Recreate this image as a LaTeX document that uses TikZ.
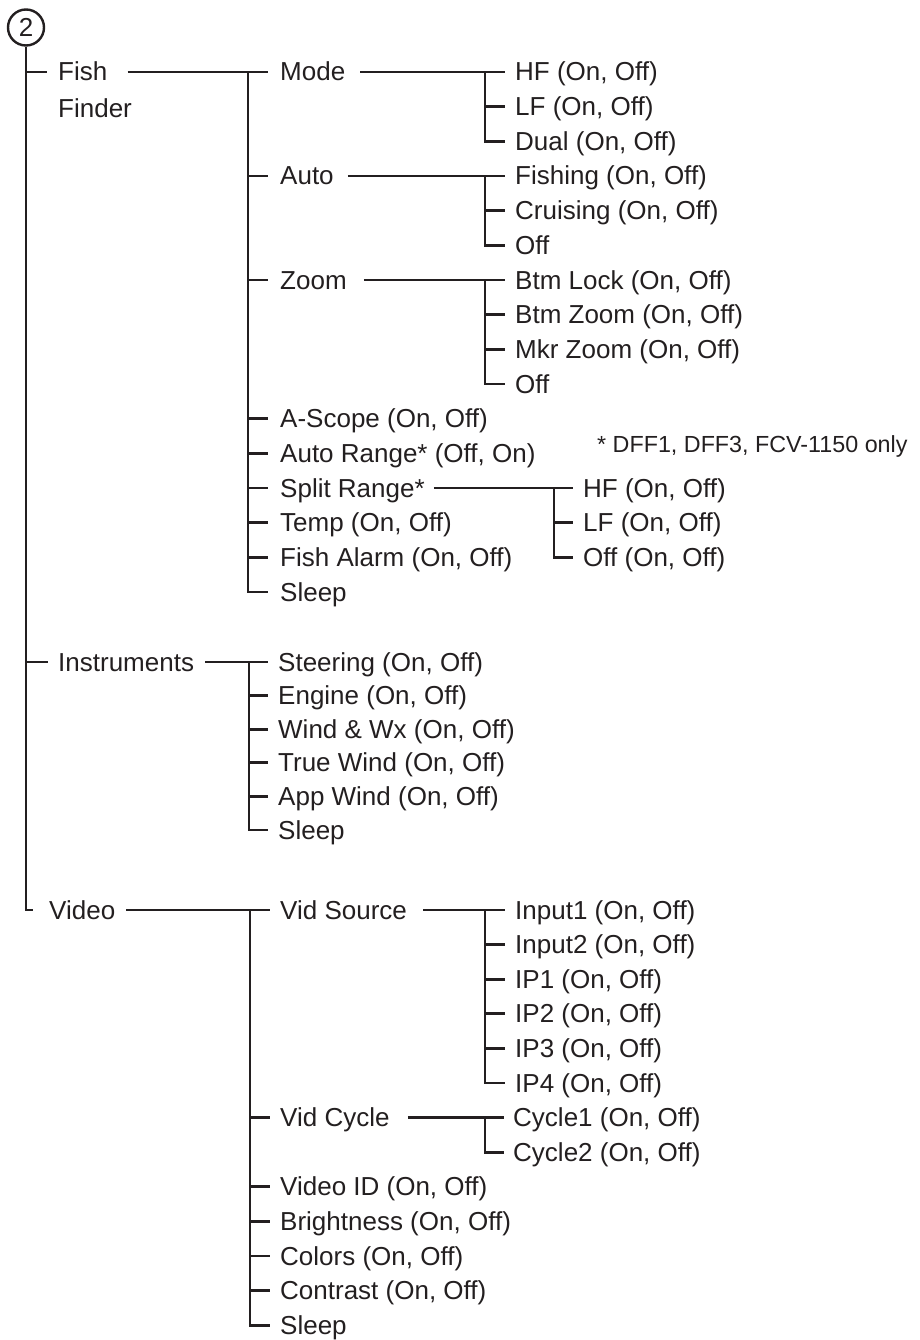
\documentclass[tikz,border=0pt]{standalone}
\usepackage{fontspec}
\setmainfont{Liberation Sans}
\definecolor{ink}{RGB}{35,31,32}
\begin{document}
\begin{tikzpicture}[x=1pt,y=-1pt,
  lbl/.style={anchor=west, inner sep=0pt, text height=24pt, text depth=6pt, text=ink, font=\fontsize{26}{30}\selectfont},
  note/.style={anchor=west, inner sep=0pt, text height=21pt, text depth=5pt, text=ink, font=\fontsize{23.3}{28}\selectfont},
  ln/.style={line width=2.7pt, draw=ink}]
\useasboundingbox (0,0) rectangle (919,1340);
% root
\node[circle, draw=ink, line width=2.4pt, minimum size=36pt, inner sep=0pt, text=ink, font=\fontsize{26}{30}\selectfont] (circ) at (26,27.5) {2};
% level 1
\node[lbl] (fish) at (58,72) {Fish};
\node[lbl] (finder) at (58,109) {Finder};
\node[lbl] (instr) at (58,662) {Instruments};
\node[lbl] (video) at (49,910) {Video};
% fish finder level 2
\node[lbl] (mode) at (280,72) {Mode};
\node[lbl] (auto) at (280,176) {Auto};
\node[lbl] (zoom) at (280,280) {Zoom};
\node[lbl] (ascope) at (280,418.7) {A-Scope (On, Off)};
\node[lbl] (arange) at (280,453.3) {Auto Range* (Off, On)};
\node[lbl] (split) at (280,488) {Split Range*};
\node[lbl] (temp) at (280,522.7) {Temp (On, Off)};
\node[lbl] (falarm) at (280,557.3) {Fish Alarm (On, Off)};
\node[lbl] (fsleep) at (280,592) {Sleep};
% fish finder level 3
\node[lbl] (hf) at (515,72) {HF (On, Off)};
\node[lbl] (lf) at (515,106.7) {LF (On, Off)};
\node[lbl] (dual) at (515,141.3) {Dual (On, Off)};
\node[lbl] (fishing) at (515,176) {Fishing (On, Off)};
\node[lbl] (cruising) at (515,210.7) {Cruising (On, Off)};
\node[lbl] (aoff) at (515,245.3) {Off};
\node[lbl] (btmlock) at (515,280) {Btm Lock (On, Off)};
\node[lbl] (btmzoom) at (515,314.7) {Btm Zoom (On, Off)};
\node[lbl] (mkrzoom) at (515,349.3) {Mkr Zoom (On, Off)};
\node[lbl] (zoff) at (515,384) {Off};
\node[lbl] (shf) at (583,488) {HF (On, Off)};
\node[lbl] (slf) at (583,522.7) {LF (On, Off)};
\node[lbl] (soff) at (583,557.3) {Off (On, Off)};
\node[note] (foot) at (597,444) {* DFF1, DFF3, FCV-1150 only};
% instruments
\node[lbl] (steer) at (278,662) {Steering (On, Off)};
\node[lbl] (engine) at (278,695.6) {Engine (On, Off)};
\node[lbl] (wind) at (278,729.2) {Wind \& Wx (On, Off)};
\node[lbl] (truewind) at (278,762.8) {True Wind (On, Off)};
\node[lbl] (appwind) at (278,796.4) {App Wind (On, Off)};
\node[lbl] (isleep) at (278,830) {Sleep};
% video level 2
\node[lbl] (vsrc) at (280,910) {Vid Source};
\node[lbl] (vcyc) at (280,1117.6) {Vid Cycle};
\node[lbl] (vid) at (280,1186.8) {Video ID (On, Off)};
\node[lbl] (bright) at (280,1221.4) {Brightness (On, Off)};
\node[lbl] (colors) at (280,1256) {Colors (On, Off)};
\node[lbl] (contrast) at (280,1290.6) {Contrast (On, Off)};
\node[lbl] (vsleep) at (280,1325.2) {Sleep};
% video level 3
\node[lbl] (in1) at (515,910) {Input1 (On, Off)};
\node[lbl] (in2) at (515,944.6) {Input2 (On, Off)};
\node[lbl] (ip1) at (515,979.2) {IP1 (On, Off)};
\node[lbl] (ip2) at (515,1013.8) {IP2 (On, Off)};
\node[lbl] (ip3) at (515,1048.4) {IP3 (On, Off)};
\node[lbl] (ip4) at (515,1083) {IP4 (On, Off)};
\node[lbl] (cyc1) at (513,1117.6) {Cycle1 (On, Off)};
\node[lbl] (cyc2) at (513,1152.2) {Cycle2 (On, Off)};
% trunk
\draw[ln] (circ.south) |- ([xshift=-16pt]video.west);
\draw[ln] (circ.south |- fish.west) -- ([xshift=-11pt]fish.west);
\draw[ln] (circ.south |- instr.west) -- ([xshift=-10pt]instr.west);
% fish finder level 2
\draw[ln] ([xshift=20pt]fish.east) -- ([xshift=-12pt]mode.west);
\draw[ln] ([xshift=-32pt]mode.west) |- ([xshift=-12pt]fsleep.west);
\foreach \n in {auto,zoom,ascope,arange,split,temp,falarm}
  \draw[ln] ([xshift=-32pt]\n.west) -- ([xshift=-12pt]\n.west);
% fish finder level 3
\draw[ln] ([xshift=15pt]mode.east) -- ([xshift=-10pt]hf.west);
\draw[ln] ([xshift=-30pt]hf.west) |- ([xshift=-10pt]dual.west);
\draw[ln] ([xshift=-30pt]lf.west) -- ([xshift=-10pt]lf.west);
\draw[ln] ([xshift=14pt]auto.east) -- ([xshift=-10pt]fishing.west);
\draw[ln] ([xshift=-30pt]fishing.west) |- ([xshift=-10pt]aoff.west);
\draw[ln] ([xshift=-30pt]cruising.west) -- ([xshift=-10pt]cruising.west);
\draw[ln] ([xshift=17pt]zoom.east) -- ([xshift=-10pt]btmlock.west);
\draw[ln] ([xshift=-30pt]btmlock.west) |- ([xshift=-10pt]zoff.west);
\foreach \n in {btmzoom,mkrzoom}
  \draw[ln] ([xshift=-30pt]\n.west) -- ([xshift=-10pt]\n.west);
\draw[ln] ([xshift=9pt]split.east) -- ([xshift=-10pt]shf.west);
\draw[ln] ([xshift=-29pt]shf.west) |- ([xshift=-10pt]soff.west);
\draw[ln] ([xshift=-29pt]slf.west) -- ([xshift=-10pt]slf.west);
% instruments
\draw[ln] ([xshift=11pt]instr.east) -- ([xshift=-10pt]steer.west);
\draw[ln] ([xshift=-29pt]steer.west) |- ([xshift=-10pt]isleep.west);
\foreach \n in {engine,wind,truewind,appwind}
  \draw[ln] ([xshift=-29pt]\n.west) -- ([xshift=-10pt]\n.west);
% video
\draw[ln] ([xshift=11pt]video.east) -- ([xshift=-10pt]vsrc.west);
\draw[ln] ([xshift=-30pt]vsrc.west) |- ([xshift=-10pt]vsleep.west);
\foreach \n in {vcyc,vid,bright,colors,contrast}
  \draw[ln] ([xshift=-30pt]\n.west) -- ([xshift=-10pt]\n.west);
\draw[ln] ([xshift=16pt]vsrc.east) -- ([xshift=-10pt]in1.west);
\draw[ln] ([xshift=-30pt]in1.west) |- ([xshift=-10pt]ip4.west);
\foreach \n in {in2,ip1,ip2,ip3}
  \draw[ln] ([xshift=-30pt]\n.west) -- ([xshift=-10pt]\n.west);
\draw[ln] ([xshift=18pt]vcyc.east) -- ([xshift=-9pt]cyc1.west);
\draw[ln] ([xshift=-28pt]cyc1.west) |- ([xshift=-9pt]cyc2.west);
\end{tikzpicture}
\end{document}
